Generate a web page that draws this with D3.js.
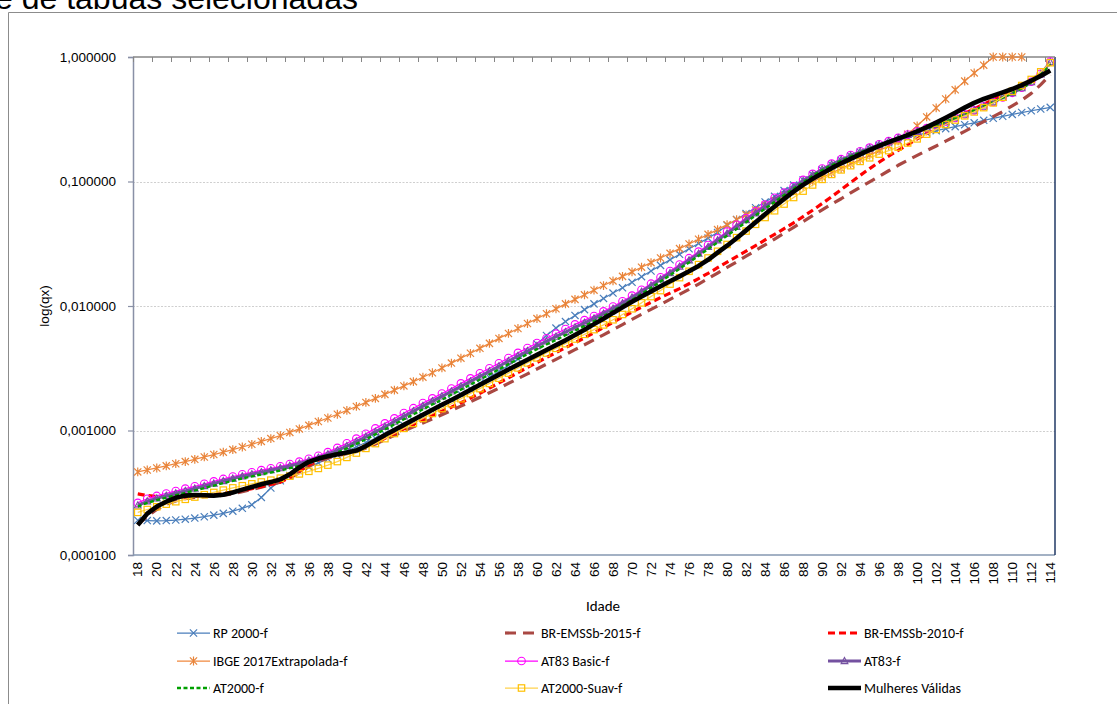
<!DOCTYPE html>
<html>
<head>
<meta charset="utf-8">
<script src="https://cdn.jsdelivr.net/npm/d3@7"></script>
<style>
  body { margin: 0; background: #fff; }
  svg { display: block; }
  text { font-family: "Liberation Sans", Arial, sans-serif; }
  .cal { font-family: Carlito, Calibri, Lato, "Open Sans", sans-serif; }
</style>
</head>
<body>
<svg id="chart" width="1117" height="704"></svg>
<script>
// Ages (category axis)
const ages = d3.range(18, 115);

// Mortality rates qx by age, 18..114
const rp2000 = [
  .000190,.000189,.000188,.000189,.000191,.000194,.000198,.000203,.000209,.000216,
  .000225,.000237,.000253,.000290,.000345,.000395,.000435,.000470,.000510,.000550,
  .000590,.000635,.000685,.000740,.000800,.000865,.000935,.00101,.00110,.00120,
  .00131,.00144,.00159,.00176,.00195,.00216,.00240,.00267,.00298,.00334,
  .00376,.00428,.00495,.00580,.00665,.00750,.00840,.00935,.0104,.0115,
  .0127,.0140,.0155,.0172,.0191,.0212,.0235,.0260,.0288,.0318,
  .0351,.0390,.0445,.0495,.0552,.0615,.0685,.0760,.0845,.0935,
  .103,.113,.124,.136,.148,.160,.172,.184,.195,.205,
  .214,.225,.236,.246,.256,.266,.276,.286,.296,.310,
  .322,.334,.346,.358,.370,.382,.394
];
const brEmssb2015 = [
  .000175,.000205,.000232,.000255,.000272,.000283,.000290,.000294,.000297,.000302,
  .000310,.000322,.000336,.000351,.000367,.000385,.000415,.000460,.000515,.000565,
  .000600,.000628,.000652,.000680,.000722,.000778,.000843,.000915,.000990,.00107,
  .00115,.00124,.00134,.00145,.00157,.00170,.00185,.00201,.00219,.00239,
  .00261,.00285,.00312,.00341,.00373,.00408,.00446,.00488,.00535,.00587,
  .00645,.00709,.00780,.00857,.00940,.0103,.0113,.0124,.0136,.0150,
  .0166,.0184,.0204,.0226,.0251,.0279,.0310,.0345,.0384,.0428,
  .0477,.0532,.0592,.0657,.0727,.0810,.0900,.0995,.110,.122,
  .135,.148,.162,.177,.193,.211,.231,.253,.277,.303,
  .332,.365,.405,.450,.510,.600,.720
];
const brEmssb2010 = [
  .000310,.000300,.000296,.000293,.000292,.000293,.000296,.000300,.000305,.000312,
  .000320,.000330,.000341,.000354,.000368,.000385,.000420,.000470,.000530,.000580,
  .000615,.000640,.000662,.000690,.000735,.000795,.000865,.000945,.00103,.00112,
  .00122,.00132,.00143,.00154,.00167,.00182,.00199,.00219,.00241,.00265,
  .00292,.00321,.00352,.00386,.00422,.00462,.00506,.00555,.00610,.00672,
  .00740,.00815,.00895,.00980,.0107,.0117,.0127,.0138,.0151,.0166,
  .0183,.0203,.0225,.0249,.0276,.0306,.0339,.0376,.0418,.0466,
  .0522,.0588,.0665,.0755,.0860,.0980,.112,.127,.143,.160,
  .178,.198,.220,.243,.268,.294,.322,.352,.384,.418,
  .455,.495,.540,.590,.650,.740,.880
];
const ibge2017 = [
  .000465,.000482,.000500,.000520,.000541,.000563,.000587,.000613,.000641,.000670,
  .000702,.000737,.000775,.000817,.000861,.000908,.000965,.00103,.00110,.00118,
  .00126,.00135,.00145,.00156,.00168,.00181,.00195,.00211,.00228,.00247,
  .00268,.00291,.00318,.00348,.00381,.00417,.00457,.00501,.00549,.00602,
  .00660,.00723,.00792,.00867,.00949,.0104,.0113,.0123,.0134,.0146,
  .0159,.0173,.0188,.0205,.0223,.0243,.0265,.0289,.0315,.0344,
  .0376,.0411,.0450,.0493,.0540,.0590,.0645,.0705,.0770,.0840,
  .0915,.0995,.108,.117,.127,.138,.150,.163,.177,.193,
  .212,.240,.280,.330,.390,.460,.545,.640,.745,.860,
  1.0,1.0,1.0,1.0,null,null,null
];
const at83Basic = [
  .000262,.000283,.000298,.000312,.000326,.000341,.000356,.000373,.000390,.000408,
  .000427,.000445,.000462,.000480,.000497,.000516,.000538,.000562,.000592,.000626,
  .000670,.000725,.000790,.000860,.000940,.00104,.00114,.00125,.00138,.00151,
  .00166,.00181,.00198,.00217,.00239,.00262,.00288,.00316,.00347,.00382,
  .00420,.00460,.00504,.00550,.00599,.00653,.00711,.00770,.00830,.00905,
  .00990,.0109,.0121,.0135,.0151,.0170,.0191,.0215,.0242,.0273,
  .0309,.0350,.0396,.0449,.0509,.0577,.0653,.0740,.0815,.0915,
  .103,.115,.127,.139,.151,.163,.175,.187,.199,.211,
  .224,.238,.253,.268,.285,.303,.324,.347,.373,.402,
  .435,.473,.516,.566,.633,.733,.920
];
const at83 = [
  .000250,.000270,.000285,.000299,.000313,.000327,.000342,.000358,.000375,.000393,
  .000411,.000429,.000446,.000463,.000480,.000499,.000520,.000543,.000572,.000605,
  .000645,.000692,.000750,.000815,.000890,.000975,.00107,.00118,.00130,.00143,
  .00157,.00172,.00188,.00206,.00226,.00248,.00272,.00299,.00328,.00361,
  .00397,.00435,.00477,.00520,.00567,.00618,.00673,.00733,.00795,.00868,
  .00952,.0105,.0117,.0130,.0146,.0164,.0184,.0207,.0233,.0263,
  .0298,.0337,.0382,.0433,.0490,.0556,.0630,.0713,.0795,.0895,
  .101,.113,.125,.137,.149,.161,.173,.185,.197,.210,
  .223,.237,.252,.267,.284,.302,.323,.346,.372,.401,
  .434,.472,.514,.562,.628,.726,.910
];
const at2000 = [
  .000245,.000262,.000276,.000289,.000302,.000316,.000330,.000345,.000361,.000378,
  .000395,.000412,.000428,.000444,.000460,.000478,.000498,.000520,.000548,.000580,
  .000620,.000665,.000718,.000780,.000850,.000930,.00102,.00112,.00123,.00135,
  .00148,.00162,.00177,.00194,.00213,.00234,.00257,.00282,.00310,.00341,
  .00375,.00411,.00450,.00491,.00535,.00583,.00635,.00692,.00755,.00830,
  .00915,.0101,.0112,.0125,.0140,.0157,.0177,.0199,.0224,.0253,
  .0286,.0324,.0367,.0416,.0471,.0534,.0605,.0685,.0775,.0875,
  .0985,.111,.123,.135,.147,.159,.171,.183,.195,.208,
  .221,.235,.250,.266,.283,.302,.323,.346,.372,.401,
  .434,.471,.513,.560,.625,.720,.880
];
const at2000Suav = [
  .000220,.000232,.000244,.000256,.000268,.000280,.000292,.000305,.000318,.000332,
  .000346,.000360,.000373,.000386,.000399,.000414,.000430,.000448,.000470,.000496,
  .000527,.000563,.000608,.000659,.000718,.000785,.000860,.000945,.00104,.00114,
  .00125,.00137,.00150,.00164,.00180,.00198,.00217,.00239,.00263,.00289,
  .00318,.00349,.00383,.00419,.00457,.00498,.00543,.00592,.00646,.00705,
  .00775,.00855,.00950,.0106,.0119,.0133,.0150,.0169,.0190,.0215,
  .0243,.0275,.0312,.0354,.0400,.0453,.0514,.0582,.0659,.0744,
  .0837,.0938,.104,.114,.124,.134,.145,.155,.166,.177,
  .189,.204,.220,.240,.262,.287,.312,.337,.362,.392,
  .428,.475,.530,.590,.660,.760,.900
];
const mulheresValidas = [
  .000174,.000215,.000245,.000268,.000288,.000300,.000303,.000302,.000300,.000305,
  .000318,.000335,.000352,.000370,.000385,.000405,.000445,.000505,.000560,.000595,
  .000620,.000645,.000665,.000690,.000750,.000830,.000920,.00101,.00111,.00122,
  .00134,.00147,.00161,.00176,.00193,.00212,.00233,.00256,.00281,.00309,
  .00338,.00370,.00405,.00443,.00485,.00530,.00585,.00645,.00715,.00790,
  .00880,.00975,.0108,.0119,.0131,.0144,.0158,.0173,.0190,.0210,
  .0235,.0268,.0305,.0350,.0405,.0470,.0545,.0630,.0725,.0830,
  .0940,.105,.116,.128,.140,.152,.165,.179,.193,.207,
  .221,.236,.253,.273,.297,.325,.357,.392,.428,.460,
  .490,.520,.553,.595,.645,.705,.780
];

const yTicks = [0.0001, 0.001, 0.01, 0.1, 1];
const xLabelAges = ages.filter(a => a % 2 === 0);

const seriesNames = ["RP 2000-f", "BR-EMSSb-2015-f", "BR-EMSSb-2010-f",
  "IBGE 2017Extrapolada-f", "AT83 Basic-f", "AT83-f",
  "AT2000-f", "AT2000-Suav-f", "Mulheres Válidas"];
const seriesValues = [rp2000, brEmssb2015, brEmssb2010, ibge2017, at83Basic, at83,
  at2000, at2000Suav, mulheresValidas];

// Line / marker styles per series
const styles = [
  { color: "#4A7EBB", width: 1.25, dash: null,   marker: "x",        mcolor: "#4A7EBB" },
  { color: "#A94843", width: 3.2,  dash: "11,7", marker: null },
  { color: "#FF0000", width: 3.2,  dash: "7,4",  marker: null },
  { color: "#F0883E", width: 1.25, dash: null,   marker: "star",     mcolor: "#E8843A" },
  { color: "#FF00FF", width: 1.25, dash: null,   marker: "circle",   mcolor: "#FF00FF" },
  { color: "#7451A0", width: 3,    dash: null,   marker: "triangle", mcolor: "#7451A0" },
  { color: "#00A000", width: 2.4,  dash: "4,2.5", marker: null },
  { color: "#FFD24D", width: 1.25, dash: null,   marker: "square",   mcolor: "#FFC000" },
  { color: "#000000", width: 4.6,  dash: null,   marker: null }
];

const series = seriesNames.map((name, i) => ({ name, values: seriesValues[i], ...styles[i] }));

const svg = d3.select("#chart");
const plot = { left: 133, right: 1055, top: 57, bottom: 555 };

const x = d3.scaleBand().domain(ages).range([plot.left, plot.right]);
const cx = a => x(a) + x.bandwidth() / 2;
const y = d3.scaleLog().domain([1e-4, 1]).range([plot.bottom, plot.top]);
const fmt = d3.formatLocale({ decimal: ",", thousands: ".", grouping: [3], currency: ["R$", ""] }).format(".6f");

// Title (runs off the top/left edge)
svg.append("text")
  .attr("x", -5).attr("y", 9)
  .attr("font-size", 32)
  .attr("fill", "#000")
  .text("e de tábuas selecionadas");

// Outer chart frame
svg.append("path")
  .attr("d", "M8.5,704V12.5H1117")
  .attr("fill", "none").attr("stroke", "#8c8c8c").attr("stroke-width", 1);

// Gridlines
svg.append("g").selectAll("line")
  .data(yTicks.filter(v => v > 1e-4 && v < 1))
  .join("line")
  .attr("x1", plot.left).attr("x2", plot.right)
  .attr("y1", d => Math.round(y(d)) + 0.5).attr("y2", d => Math.round(y(d)) + 0.5)
  .attr("stroke", "#cfcfcf").attr("stroke-width", 1).attr("stroke-dasharray", "2,1.5");

// Left axis
const yAxis = svg.append("g")
  .attr("transform", `translate(${plot.left},0)`)
  .call(d3.axisLeft(y).tickValues(yTicks).tickFormat(fmt).tickSize(5).tickPadding(12));
yAxis.select(".domain").attr("stroke", "#8990A6").attr("stroke-width", 1.5);
yAxis.selectAll(".tick line").attr("stroke", "#8990A6").attr("stroke-width", 1.2);
yAxis.selectAll("text").attr("font-size", 13.5).attr("fill", "#000")
  .style("font-family", "'Liberation Sans', Arial, sans-serif");

// Bottom border and rotated category labels
svg.append("line")
  .attr("x1", plot.left).attr("x2", plot.right)
  .attr("y1", plot.bottom).attr("y2", plot.bottom)
  .attr("stroke", "#8497B0").attr("stroke-width", 1.5);

const xAxis = svg.append("g")
  .attr("transform", `translate(0,${plot.bottom})`)
  .call(d3.axisBottom(x).tickValues(xLabelAges).tickSize(0));
xAxis.select(".domain").remove();
xAxis.selectAll("text")
  .attr("transform", "rotate(-90)")
  .attr("x", -7).attr("y", 0).attr("dy", "0.35em")
  .style("text-anchor", "end")
  .attr("font-size", 13.5).attr("fill", "#000")
  .style("font-family", "'Liberation Sans', Arial, sans-serif");

// Right border
svg.append("line")
  .attr("x1", plot.right).attr("x2", plot.right)
  .attr("y1", plot.top).attr("y2", plot.bottom)
  .attr("stroke", "#203864").attr("stroke-width", 1.5);

// Top axis line with tick marks between category pairs
svg.append("line")
  .attr("x1", plot.left).attr("x2", plot.right)
  .attr("y1", plot.top).attr("y2", plot.top)
  .attr("stroke", "#868686").attr("stroke-width", 1.5);
svg.append("g").selectAll("line")
  .data(xLabelAges)
  .join("line")
  .attr("x1", d => Math.round(x(d)) + 0.5).attr("x2", d => Math.round(x(d)) + 0.5)
  .attr("y1", plot.top).attr("y2", plot.top + 5)
  .attr("stroke", "#868686").attr("stroke-width", 1);

// Axis titles
svg.append("text")
  .attr("transform", "translate(44,306) rotate(-90)")
  .attr("text-anchor", "middle").attr("dy", "0.35em")
  .attr("font-size", 13.5).attr("fill", "#000")
  .text("log(qx)");
svg.append("text")
  .attr("class", "cal")
  .attr("x", 603).attr("y", 611)
  .attr("text-anchor", "middle")
  .attr("font-size", 15).attr("fill", "#000")
  .text("Idade");

// Marker drawing
function drawMarker(g, type, color, px, py) {
  const s = 3.6;
  if (type === "x") {
    g.append("path").attr("d", `M${px - s},${py - s}L${px + s},${py + s}M${px - s},${py + s}L${px + s},${py - s}`)
      .attr("stroke", color).attr("stroke-width", 1.2).attr("fill", "none");
  } else if (type === "star") {
    g.append("path").attr("d", `M${px - s},${py - s}L${px + s},${py + s}M${px - s},${py + s}L${px + s},${py - s}M${px},${py - s - 0.8}L${px},${py + s + 0.8}`)
      .attr("stroke", color).attr("stroke-width", 1.2).attr("fill", "none");
  } else if (type === "circle") {
    g.append("circle").attr("cx", px).attr("cy", py).attr("r", 3.8)
      .attr("stroke", color).attr("stroke-width", 1.1).attr("fill", "none");
  } else if (type === "triangle") {
    g.append("path").attr("d", `M${px},${py - 3.6}L${px + 3.4},${py + 2.6}L${px - 3.4},${py + 2.6}Z`)
      .attr("stroke", color).attr("stroke-width", 1.1).attr("fill", "none");
  } else if (type === "square") {
    g.append("rect").attr("x", px - 3.2).attr("y", py - 3.2).attr("width", 6.4).attr("height", 6.4)
      .attr("stroke", color).attr("stroke-width", 1.2).attr("fill", "none");
  }
}

// Series lines and markers
const line = d3.line()
  .defined(d => d.v != null)
  .x(d => cx(d.age))
  .y(d => y(d.v));

const gSeries = svg.append("g");
series.forEach(s => {
  const pts = ages.map((age, i) => ({ age, v: s.values[i] }));
  const g = gSeries.append("g");
  g.append("path")
    .datum(pts)
    .attr("d", line)
    .attr("fill", "none")
    .attr("stroke", s.color)
    .attr("stroke-width", s.width)
    .attr("stroke-dasharray", s.dash)
    .attr("stroke-linejoin", "round");
  if (s.marker) {
    pts.filter(p => p.v != null).forEach(p => drawMarker(g, s.marker, s.mcolor, cx(p.age), y(p.v)));
  }
});

// Legend: 3 columns x 3 rows
const legendCols = [213, 541, 864];
const legendRows = [633, 661, 688];
const legend = svg.append("g");
series.forEach((s, i) => {
  const tx = legendCols[i % 3], ty = legendRows[Math.floor(i / 3)];
  const g = legend.append("g");
  g.append("line")
    .attr("x1", tx - 36).attr("x2", tx - 3)
    .attr("y1", ty).attr("y2", ty)
    .attr("stroke", s.color).attr("stroke-width", s.width)
    .attr("stroke-dasharray", s.dash);
  if (s.marker) drawMarker(g, s.marker, s.mcolor, tx - 19.5, ty);
  g.append("text")
    .attr("class", "cal")
    .attr("x", tx).attr("y", ty).attr("dy", "0.35em")
    .attr("font-size", 14).attr("fill", "#000")
    .text(s.name);
});
</script>
</body>
</html>
